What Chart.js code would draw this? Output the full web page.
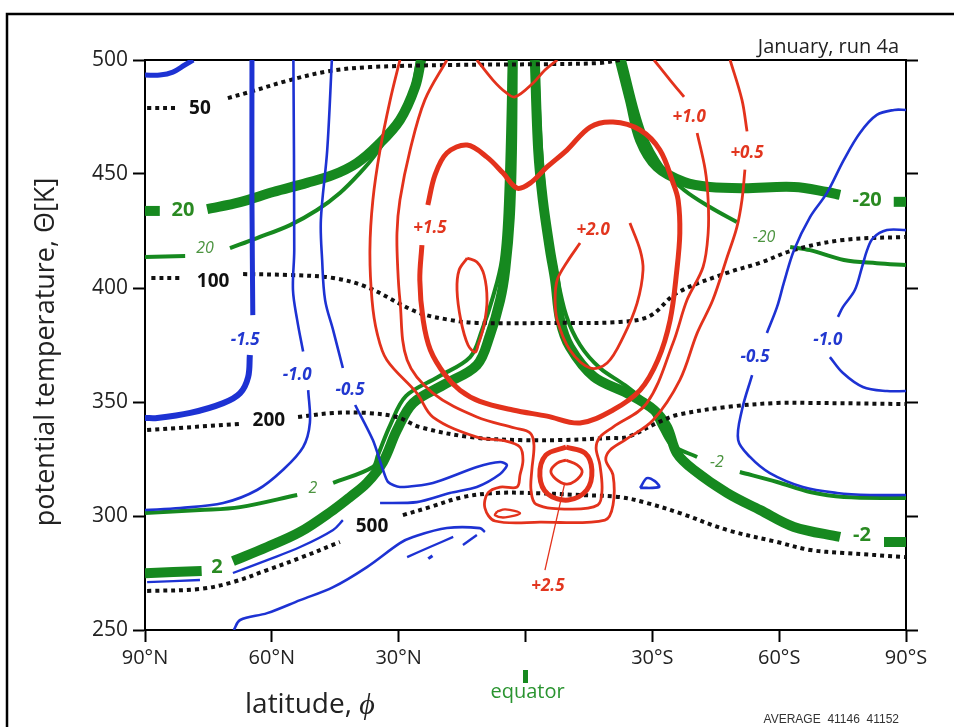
<!DOCTYPE html>
<html>
<head>
<meta charset="utf-8">
<script src="https://cdn.jsdelivr.net/npm/chart.js@4.4.1/dist/chart.umd.min.js"></script>
<style>
  html, body { margin: 0; padding: 0; background: #fff; }
  canvas { display: block; }
</style>
</head>
<body>
<canvas id="chart" width="954" height="727"></canvas>
<script>
// ---- axes ----------------------------------------------------------------
// latitude: negative = northern hemisphere, positive = southern hemisphere
const latTicks = [-90, -60, -30, 0, 30, 60, 90];
const latTickLabels = ['90°N', '60°N', '30°N', '', '30°S', '60°S', '90°S'];
const thetaTicks = [250, 300, 350, 400, 450, 500];

// ---- pressure surfaces [hPa] (latitude, potential temperature) -------------
const isobar50Left = [[-89.5,478.9],[-82.2,478.9]];
const isobar50Right = [[-70.4,483.3],[-65.2,486.0],[-55.7,491.2],[-46.2,495.2],[-36.8,496.9],[-17.9,497.8],[5.8,498.2],[17.6,498.7],[22.3,500]];
const isobar100Left = [[-88.5,404.4],[-81.7,404.4]];
const isobar100Right = [[-66.8,406.1],[-55.7,405.7],[-45.5,404.4],[-37.5,400.4],[-25.7,389.5],[-17.9,386.0],[-11.5,384.7],[8.1,384.7],[22.3,385.1],[29.4,387.7],[35.8,397.8],[47.6,406.6],[55.4,411.0],[63.5,416.7],[75.3,421.1],[90,422.4]];
const isobar200Left = [[-89.5,337.7],[-67.5,340.4]];
const isobar200Right = [[-53.8,343.4],[-45.5,345.2],[-37.5,345.2],[-30.4,343.4],[-25.0,339.0],[-13.1,334.6],[-1.3,333.3],[8.1,333.3],[20.0,334.2],[24.0,334.6],[31.1,340.8],[35.8,344.3],[47.6,347.8],[59.5,349.6],[67.3,349.6],[90,349.1]];
const isobar500Left = [[-89.5,267.1],[-77.0,268.0],[-69.2,271.0],[-61.1,276.3],[-53.3,281.6],[-43.9,288.6]];
const isobar500Right = [[-29.0,300.4],[-22.6,303.9],[-14.8,308.3],[-6.8,310.1],[1.1,310.1],[12.9,309.2],[22.3,308.3],[28.7,305.7],[36.5,301.3],[47.6,293.9],[59.5,288.6],[67.3,285.1],[75.3,283.8],[90,282.0]];

// ---- potential vorticity [PVU] -----------------------------------------------
const pv20ThickA = [[-90,433.8],[-86.5,433.8]];
const pv20ThickB = [[-75.3,434.6],[-67.5,437.7],[-59.7,442.1],[-51.7,446.1],[-45.5,449.6],[-39.9,454.8],[-34.9,462.7],[-29.7,473.7],[-26.1,488.2],[-24.7,500]];
const pv20ThinA = [[-90,413.6],[-80.5,414.0]];
const pv20ThinB = [[-69.9,417.5],[-63.5,421.9],[-55.7,427.6],[-49.3,434.2],[-43.9,441.7],[-39.2,450.4],[-35.6,458.3],[-30.9,471.5],[-26.9,486.8],[-25.4,500]];
const pv2ThickA = [[-90,274.9],[-76.6,275.9]];
const pv2ThickB = [[-69.2,280.2],[-61.1,286.4],[-53.3,293.0],[-45.5,302.6],[-41.5,308.3],[-37.5,314.5],[-33.7,323.7],[-30.4,337.7],[-26.6,349.5],[-19.5,357.4],[-11.5,366.2],[-8.4,379.4],[-6.0,394.7],[-4.8,407.9],[-3.7,431.1],[-3.2,460.5],[-3.0,500]];
const pv2ThinA = [[-90,301.3],[-77.0,302.6],[-67.5,303.9],[-54.0,309.2]];
const pv2ThinB = [[-45.5,314.5],[-36.1,321.5],[-34.9,326.7],[-32.0,339.9],[-28.3,352.6],[-20.7,361.0],[-13.1,369.7],[-10.3,381.5],[-7.7,396.1],[-5.6,412.3],[-4.6,438.6],[-3.7,500]];
const pvM2ThickA = [[2.2,500],[3.0,460.5],[4.1,438.6],[5.8,416.6],[7.0,403.5],[8.2,385.9],[10.5,374.1],[16.2,361.0],[24.0,353.9],[30.4,346.5],[33.5,339.0],[35.8,327.6],[39.8,320.2],[47.7,310.1],[55.5,302.6],[63.5,295.2],[74.4,290.8]];
const pvM2ThickB = [[84.8,288.6],[90,288.6]];
const pvM2ThinA = [[2.7,500],[3.7,460.5],[5.1,429.8],[7.2,407.9],[9.6,388.1],[12.9,375.0],[17.6,364.9],[23.5,357.4],[29.0,348.7],[32.3,337.7],[34.6,331.1],[40.6,325.9]];
const pvM2ThinB = [[50.7,319.3],[59.5,314.9],[67.3,310.5],[75.3,308.3],[90,307.9]];
const pvM20ThickA = [[22.3,500],[24.7,482.5],[27.1,464.9],[31.1,453.1],[37.5,446.5],[43.6,444.3],[51.7,443.8],[63.5,444.3],[71.3,442.1],[74.4,440.8]];
const pvM20ThickB = [[87.1,437.8],[90,437.8]];
const pvM20ThinA = [[23.3,500],[28.0,468.0],[32.8,451.7],[37.5,443.0],[43.6,435.5],[50.0,428.9]];
const pvM20ThinB = [[62.6,418.0],[67.3,416.6],[75.3,412.3],[83.1,410.9],[90,410.1]];

// ---- mean meridional wind, negative contours [m/s] -------------------------
const windPolarCap = [[-90,493.4],[-86.5,493.4],[-83.4,494.7],[-80.6,497.8],[-78.6,500]];
const windM15Upper = [[-64.7,500],[-64.7,438.6],[-64.5,388.1]];
const windM15Lower = [[-65.2,370.6],[-65.6,361.0],[-67.5,353.9],[-71.5,349.5],[-79.3,345.2],[-87.1,343.0],[-90,343.0]];
const windM10Upper = [[-54.9,500],[-54.7,416.6],[-55.0,399.1],[-54.0,385.9],[-52.6,372.1]];
const windM10Lower = [[-51.4,355.2],[-51.0,340.8],[-52.6,330.2],[-57.4,320.2],[-63.5,311.4],[-71.5,305.7],[-81.7,303.5],[-90,302.6]];
const windM05Upper = [[-45.8,500],[-46.9,460.5],[-48.4,429.8],[-48.1,412.3],[-47.4,394.7],[-45.5,381.5],[-43.2,364.9]];
const windM05Lower = [[-40.3,348.7],[-36.1,333.3],[-33.7,320.2],[-32.5,314.9],[-29.7,312.7],[-21.9,314.5],[-11.5,321.5],[-6.0,323.7],[-4.4,322.4],[-6.0,318.4],[-11.5,312.7],[-17.9,310.1],[-25.7,306.1],[-34.4,305.7]];
const windLowA = [[-89.5,271.0],[-77.0,271.9]];
const windLowB = [[-69.2,275.0],[-61.1,280.7],[-53.3,286.4],[-45.5,293.9],[-43.2,298.2]];
const windSurface = [[-69.0,250],[-67.5,254.4],[-61.1,257.4],[-53.3,263.1],[-45.5,268.8],[-37.5,277.6],[-29.7,288.1],[-26.6,290.8],[-18.6,294.7],[-10.8,294.7],[-9.6,293.0]];
const windPatchA = [[-28.0,282.0],[-22.6,286.4],[-17.1,290.8]];
const windPatchB = [[-14.8,287.3],[-11.5,291.7]];
const windPatchC = [[-23.0,281.3],[-22.0,282.6]];
const windLoopSouth = [[27.1,312.3],[28.7,316.6],[30.6,315.3],[31.6,312.7],[27.1,312.3]];
const windS05Upper = [[90,478.1],[87.2,478.1],[83.1,475.9],[79.1,468.0],[75.3,456.2],[71.3,441.7],[67.3,431.1],[63.5,416.6],[61.1,402.2],[59.5,391.7],[57.1,380.3]];
const windS05Lower = [[53.6,361.8],[51.2,346.5],[50.3,333.3],[53.1,325.9],[57.8,318.8],[65.6,312.7],[73.7,310.1],[81.5,309.2],[90,309.2]];
const windS10Upper = [[90,425.4],[85.5,425.4],[82.2,421.9],[80.8,416.6],[79.6,409.2],[77.9,399.1],[75.1,391.7],[73.9,387.3]];
const windS10Lower = [[72.0,369.7],[75.1,362.7],[79.8,356.6],[85.5,354.8],[90,354.8]];

// ---- diabatic heating, positive contours [K/day] ---------------------------
const heat05Main = [[-29.7,500],[-32.0,482.5],[-34.4,460.5],[-36.1,438.6],[-36.8,416.7],[-36.3,394.7],[-35.1,380.2],[-32.8,368.4],[-25.7,353.9],[-21.9,343.4],[-11.5,334.6],[-4.8,332.9],[-1.3,330.2],[-0.6,324.5],[-1.3,318.0],[-2.0,312.7],[-6.0,312.7],[-8.9,310.1],[-9.6,303.5],[-7.2,297.8],[3.4,297.3],[18.8,298.2],[20.7,304.8],[20.7,318.0],[19.0,324.5],[20.0,328.9],[23.5,333.3],[30.2,342.1],[36.5,359.6],[40.6,380.2],[44.3,394.7],[47.7,413.6],[50.0,426.7],[51.2,438.6],[51.9,451.9]];
const heat05Top = [[52.4,468.7],[51.2,482.5],[48.4,500]];
const heat10Main = [[-18.6,500],[-23.8,482.5],[-27.3,460.5],[-29.7,438.6],[-30.4,424.1],[-30.2,407.9],[-29.7,394.7],[-28.0,368.4],[-21.9,353.9],[-11.5,343.4],[-2.5,338.6],[1.1,336.4],[2.0,331.1],[1.5,320.2],[1.3,311.4],[2.5,305.2],[10.5,303.0],[17.1,304.8],[18.1,311.4],[17.6,322.4],[16.7,329.8],[17.6,334.6],[20.7,339.0],[28.7,349.5],[34.9,375.9],[38.2,394.7],[42.0,409.2],[43.2,424.1],[43.2,438.6],[42.5,451.9],[40.6,468.0]];
const heat10Top = [[37.5,483.8],[34.2,491.2],[30.4,500]];
const heat15 = [[-24.5,418.8],[-25.0,403.5],[-24.2,385.9],[-22.5,372.8],[-19.0,361.8],[-15.5,355.2],[-10.8,350.3],[-3.0,346.5],[5.1,343.8],[12.9,340.8],[20.7,346.5],[27.1,355.2],[31.3,368.4],[34.2,385.9],[35.8,407.9],[36.5,424.1],[36.1,438.6],[34.9,446.1],[31.8,460.5],[27.1,469.3],[20.7,472.8],[15.3,470.6],[9.8,460.5],[5.1,453.1],[1.1,446.0],[-2.0,443.8],[-5.3,450.4],[-9.1,457.4],[-13.8,462.7],[-18.6,459.2],[-21.4,449.6],[-23.1,436.4]];
const heatTopArc = [[-11.5,500],[-7.7,491.2],[-4.8,486.0],[-2.5,483.8],[1.8,489.9],[4.6,495.6],[7.5,500]];
const heat20South = [[12.9,419.7],[9.8,411.3],[7.5,403.5],[7.0,394.7],[7.5,385.9],[10.5,372.8],[15.3,364.9],[19.3,367.1],[23.1,378.5],[26.4,393.4],[27.8,407.9],[27.1,416.7],[24.7,428.5]];
const heat20North = [[-13.8,413.1],[-11.5,411.4],[-9.8,405.7],[-9.1,394.7],[-9.8,383.8],[-11.2,375.0],[-11.9,371.9],[-13.6,375.0],[-15.3,385.9],[-16.2,399.1],[-15.7,407.9],[-13.8,413.1]];
const heat25Ring = [[9.6,330.2],[14.1,327.6],[15.7,320.2],[14.5,311.4],[10.1,307.0],[5.3,309.6],[3.4,317.5],[4.8,326.7],[9.6,330.2]];
const heat25Core = [[9.6,324.5],[12.2,322.4],[13.4,319.3],[11.7,315.3],[9.6,314.0],[7.2,316.2],[6.0,319.7],[7.5,323.2],[9.6,324.5]];
const heatLowLoop = [[-6.7,302.0],[-4.8,302.9],[-1.3,301.2],[-4.8,299.4],[-7.2,300.3],[-6.7,302.0]];
const heatPointer = [[4.6,276.3],[9.3,314.5]];

// ---- contour labels (text, latitude, potential temperature) ---------------
const isobarLabels = [['50',-77.0,478.9],['100',-73.9,403.0],['200',-60.7,341.7],['500',-36.3,295.2]];
const pvThickLabels = [['20',-81.0,434.2],['-20',80.8,438.6],['2',-73.0,277.6],['-2',79.6,291.7]];
const pvThinLabels = [['20',-75.8,417.5],['-20',56.4,422.3],['2',-50.3,312.3],['-2',45.3,323.7]];
const windLabels = [['-1.5',-66.3,377.2],['-1.0',-54.0,361.8],['-0.5',-41.5,355.2],['-0.5',54.3,369.7],['-1.0',71.5,377.2]];
const heatLabels = [['+1.5',-22.6,426.3],['+2.0',16.0,425.4],['+1.0',38.7,475.0],['+0.5',52.4,459.2],['+2.5',5.3,269.3]];

// ---- styling ----------------------------------------------------------------
const RED = '#e3321c', BLUE = '#1d32d3', GREEN = '#16891f', BLACK = '#111111';

function contour(points, color, width, order, extra) {
  return Object.assign({
    data: points.map(p => ({ x: p[0], y: p[1] })),
    showLine: true,
    borderColor: color,
    backgroundColor: color,
    borderWidth: width,
    pointRadius: 0,
    pointHoverRadius: 0,
    tension: 0.35,
    fill: false,
    borderCapStyle: 'butt',
    borderJoinStyle: 'round',
    order: order
  }, extra || {});
}
const dotted = { borderDash: [4, 4], borderCapStyle: 'butt' };

const datasets = [
  // heating (top layer)
  contour(heat05Main, RED, 2.8, 1), contour(heat05Top, RED, 2.8, 1),
  contour(heat10Main, RED, 2.8, 1), contour(heat10Top, RED, 2.8, 1),
  contour(heat15, RED, 5, 1), contour(heatTopArc, RED, 2.8, 1),
  contour(heat20South, RED, 2.8, 1), contour(heat20North, RED, 2.8, 1),
  contour(heat25Ring, RED, 5, 1), contour(heat25Core, RED, 2.8, 1),
  contour(heatLowLoop, RED, 2.4, 1), contour(heatPointer, RED, 1.3, 1, { tension: 0 }),
  // wind
  contour(windPolarCap, BLUE, 5, 2), contour(windM15Upper, BLUE, 5, 2), contour(windM15Lower, BLUE, 6, 2),
  contour(windM10Upper, BLUE, 2.6, 2), contour(windM10Lower, BLUE, 2.6, 2),
  contour(windM05Upper, BLUE, 2.6, 2), contour(windM05Lower, BLUE, 2.6, 2, { tension: 0.25 }),
  contour(windLowA, BLUE, 2.4, 2), contour(windLowB, BLUE, 2.4, 2),
  contour(windSurface, BLUE, 2.6, 2), contour(windPatchA, BLUE, 2.4, 2), contour(windPatchB, BLUE, 2.4, 2),
  contour(windPatchC, BLUE, 3, 2), contour(windLoopSouth, BLUE, 2.6, 2, { tension: 0.3 }),
  contour(windS05Upper, BLUE, 2.6, 2), contour(windS05Lower, BLUE, 2.6, 2),
  contour(windS10Upper, BLUE, 2.6, 2), contour(windS10Lower, BLUE, 2.6, 2),
  // pressure surfaces
  contour(isobar50Left, BLACK, 4, 3, dotted), contour(isobar50Right, BLACK, 4, 3, dotted),
  contour(isobar100Left, BLACK, 4, 3, dotted), contour(isobar100Right, BLACK, 4, 3, dotted),
  contour(isobar200Left, BLACK, 4, 3, dotted), contour(isobar200Right, BLACK, 4, 3, dotted),
  contour(isobar500Left, BLACK, 4, 3, dotted), contour(isobar500Right, BLACK, 4, 3, dotted),
  // potential vorticity (bottom layer)
  contour(pv20ThickA, GREEN, 10, 4), contour(pv20ThickB, GREEN, 10, 4),
  contour(pv20ThinA, GREEN, 4, 5), contour(pv20ThinB, GREEN, 4, 5),
  contour(pv2ThickA, GREEN, 10, 4), contour(pv2ThickB, GREEN, 10, 4),
  contour(pv2ThinA, GREEN, 4, 5), contour(pv2ThinB, GREEN, 4, 5),
  contour(pvM2ThickA, GREEN, 10, 4), contour(pvM2ThickB, GREEN, 10, 4),
  contour(pvM2ThinA, GREEN, 4, 5), contour(pvM2ThinB, GREEN, 4, 5),
  contour(pvM20ThickA, GREEN, 10, 4), contour(pvM20ThickB, GREEN, 10, 4),
  contour(pvM20ThinA, GREEN, 4, 5), contour(pvM20ThinB, GREEN, 4, 5)
];

const labelGroups = [
  { items: isobarLabels, color: '#111', font: 'bold 19px "Open Sans"' },
  { items: pvThickLabels, color: '#2a8a22', font: 'bold 20px "Open Sans"' },
  { items: pvThinLabels, color: '#4c9440', font: 'italic 16px "Open Sans"' },
  { items: windLabels, color: '#2238d0', font: 'italic bold 17px "Open Sans"' },
  { items: heatLabels, color: '#e2361f', font: 'italic bold 17px "Open Sans"' }
];

const decorations = {
  id: 'decorations',
  beforeDraw(chart) {
    const c = chart.ctx;
    c.save();
    c.fillStyle = '#fff';
    c.fillRect(0, 0, chart.width, chart.height);
    c.strokeStyle = '#000';
    c.lineWidth = 2.5;
    c.beginPath();
    c.moveTo(7, chart.height);
    c.lineTo(7, 14);
    c.lineTo(chart.width, 14);
    c.stroke();
    c.restore();
  },
  afterDatasetsDraw(chart) {
    const c = chart.ctx, xs = chart.scales.x, ys = chart.scales.y;
    c.save();
    c.textAlign = 'center';
    c.textBaseline = 'middle';
    labelGroups.forEach(g => {
      c.fillStyle = g.color;
      c.font = g.font;
      g.items.forEach(([t, lat, th]) => c.fillText(t, xs.getPixelForValue(lat), ys.getPixelForValue(th)));
    });
    c.restore();
  },
  afterDraw(chart) {
    const c = chart.ctx, xs = chart.scales.x;
    c.save();
    c.fillStyle = '#222';
    c.font = '20px "Open Sans"';
    c.textAlign = 'right';
    c.textBaseline = 'alphabetic';
    c.fillText('January, run 4a', 899, 53);

    c.font = '28px "Open Sans"';
    c.textAlign = 'left';
    c.fillText('latitude, ', 245, 713);
    const w1 = c.measureText('latitude, ').width;
    c.font = 'italic 30px "Open Sans"';
    c.fillText('ϕ', 245 + w1, 714);

    c.save();
    c.translate(46, 352);
    c.rotate(-Math.PI / 2);
    c.textAlign = 'center';
    c.textBaseline = 'middle';
    c.font = '27px "Open Sans"';
    c.fillText('potential temperature, Θ[K]', 0, 0);
    c.restore();

    const x0 = xs.getPixelForValue(0);
    c.strokeStyle = GREEN;
    c.lineWidth = 5;
    c.beginPath();
    c.moveTo(x0, 670);
    c.lineTo(x0, 683);
    c.stroke();
    c.fillStyle = '#2a9430';
    c.font = '20px "Open Sans"';
    c.textAlign = 'center';
    c.fillText('equator', x0 + 2, 698);

    c.fillStyle = '#333';
    c.font = '12px "Liberation Sans"';
    c.textAlign = 'right';
    c.fillText('AVERAGE  41146  41152', 899, 723);
    c.restore();
  }
};

const tickGrid = { drawOnChartArea: false, drawTicks: true, tickLength: 12, tickWidth: 2, tickColor: '#000' };
const axisBorder = { display: true, color: '#000', width: 2 };

new Chart(document.getElementById('chart').getContext('2d'), {
  type: 'scatter',
  data: { datasets },
  options: {
    responsive: false,
    animation: false,
    devicePixelRatio: 1,
    layout: { padding: { top: 60, left: 0, right: 0, bottom: 0 } },
    plugins: { legend: { display: false }, tooltip: { enabled: false } },
    events: [],
    scales: {
      x: {
        type: 'linear', position: 'bottom', min: -90, max: 90,
        afterBuildTicks: s => { s.ticks = latTicks.map(v => ({ value: v })); },
        afterFit: s => { s.height = 97; },
        ticks: {
          callback: v => latTickLabels[latTicks.indexOf(v)],
          font: { family: 'Open Sans', size: 20 }, color: '#222', padding: 4,
          maxRotation: 0, autoSkip: false
        },
        grid: tickGrid, border: axisBorder
      },
      y: {
        type: 'linear', position: 'left', min: 250, max: 500,
        afterBuildTicks: s => { s.ticks = thetaTicks.map(v => ({ value: v })); },
        afterFit: s => { s.width = 145; },
        ticks: { font: { family: 'Open Sans', size: 21 }, color: '#222', padding: 5 },
        grid: tickGrid, border: axisBorder
      },
      y2: {
        type: 'linear', position: 'right', min: 250, max: 500,
        afterBuildTicks: s => { s.ticks = thetaTicks.map(v => ({ value: v })); },
        afterFit: s => { s.width = 48; },
        ticks: { display: false },
        grid: tickGrid, border: axisBorder
      },
      xTop: {
        type: 'linear', position: 'top', min: -90, max: 90,
        afterFit: s => { s.height = 0; },
        ticks: { display: false },
        grid: { drawOnChartArea: false, drawTicks: false },
        border: axisBorder
      }
    }
  },
  plugins: [decorations]
});
</script>
</body>
</html>
